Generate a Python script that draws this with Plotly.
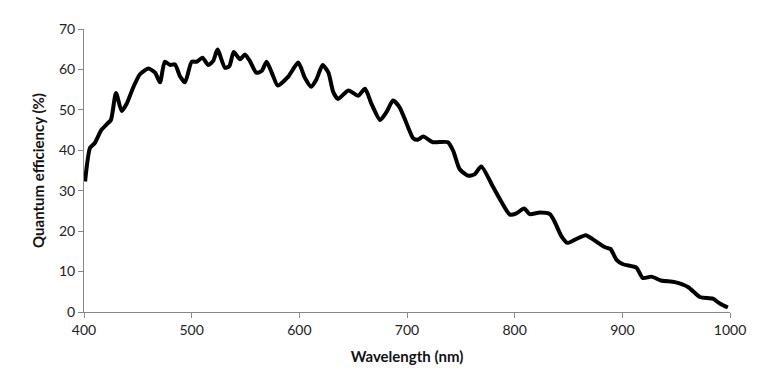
import plotly.graph_objects as go

wavelength = [401, 405.6, 410, 416, 421, 425, 429.7, 435, 439.6, 445.8, 452, 459.7, 466, 470.6, 475, 480,
              484.5, 489, 493.8, 500, 504.6, 510, 515.4, 520, 524, 531, 535, 539, 545, 549.5, 554, 560,
              565, 569.6, 575, 580, 589.7, 599, 605, 611, 616, 621.6, 627, 631.5, 636, 645.5, 654.7, 661,
              667, 675, 681, 687, 693, 699.5, 705.7, 710, 715, 724, 738, 743, 749, 757, 763, 769, 780,
              787.8, 795.5, 801.7, 808.8, 814, 823.4, 832.7, 837, 843.5, 849, 856, 866, 873, 884, 889,
              894.6, 900.7, 913, 919, 927, 936, 948.7, 961, 972, 984, 990.5, 998]
efficiency = [32.3, 40.6, 41.8, 45.0, 46.4, 47.5, 54.2, 49.7, 51.5, 55.6, 58.8, 60.2, 59.2, 56.8, 61.9, 61.1,
              61.25, 58.4, 56.8, 61.9, 61.9, 62.9, 61.1, 62.1, 64.9, 60.4, 60.8, 64.3, 62.5, 63.7, 62.1, 59.2,
              59.6, 61.9, 58.8, 56.0, 58.2, 61.7, 58.0, 55.7, 57.6, 61.1, 59.2, 54.4, 52.7, 54.8, 53.5, 55.2,
              51.5, 47.5, 49.5, 52.3, 50.7, 46.7, 43.0, 42.6, 43.4, 42.0, 42.0, 39.8, 35.3, 33.7, 34.1, 36.0, 30.9,
              27.2, 24.1, 24.4, 25.6, 24.2, 24.6, 24.2, 22.4, 18.7, 17.1, 17.9, 19.0, 17.9, 16.0, 15.6,
              12.9, 11.8, 11.0, 8.4, 8.75, 7.8, 7.4, 6.2, 3.7, 3.3, 2.1, 1.1]

x_ticks = [400, 500, 600, 700, 800, 900, 1000]
y_ticks = [0, 10, 20, 30, 40, 50, 60, 70]

fig = go.Figure()
fig.add_trace(go.Scatter(x=wavelength, y=efficiency, mode="lines",
                         line=dict(color="black", width=4, shape="spline", smoothing=0.6),
                         showlegend=False, hoverinfo="skip"))

axis_font = dict(family="Lato, Liberation Sans, sans-serif", size=14, color="#222")
title_font = dict(family="Lato, Liberation Sans, sans-serif", size=15, color="#111")
fig.update_layout(
    width=764, height=376,
    margin=dict(l=76, r=42, t=16, b=72),
    paper_bgcolor="white", plot_bgcolor="white",
    xaxis=dict(range=[400, 1000], tickvals=x_ticks, ticktext=[str(v) for v in x_ticks],
               showgrid=False, zeroline=False, showline=True, linecolor="#888", linewidth=1,
               ticks="outside", ticklen=5, tickcolor="#888", tickfont=axis_font,
               title=dict(text="<b>Wavelength (nm)</b>", font=title_font, standoff=14)),
    yaxis=dict(range=[0, 70], tickvals=y_ticks, ticktext=[str(v) for v in y_ticks],
               showgrid=False, zeroline=False, showline=True, linecolor="#888", linewidth=1,
               ticks="outside", ticklen=5, tickcolor="#888", tickfont=axis_font,
               title=dict(text="<b>Quantum efficiency (%)</b>", font=title_font, standoff=10)),
)

fig.write_html("out.html")
